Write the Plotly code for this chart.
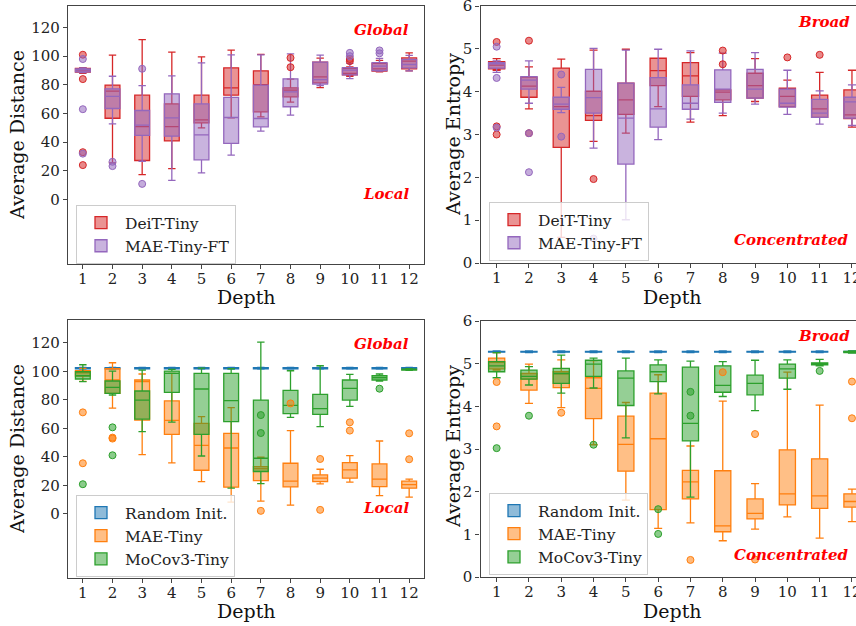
import plotly.graph_objects as go

depths = list(range(1, 13))

# each row: [lower whisker, q1, median, q3, upper whisker] per depth
deit_dist = [[88.0, 88.8, 90.2, 91.4, 92.0], [25.5, 56.7, 75.6, 79.8, 100.7], [17.4, 27.2, 50.9, 72.8, 111.6],
             [21.6, 40.9, 50.9, 66.7, 102.8], [50.0, 53.5, 55.6, 72.8, 99.5], [57.0, 72.8, 77.9, 91.9, 104.2],
             [57.7, 61.2, 80.2, 89.8, 101.2], [67.9, 71.6, 76.3, 77.9, 84.0], [78.1, 81.4, 85.6, 95.8, 98.6],
             [86.0, 87.0, 88.0, 91.5, 92.5], [89.0, 89.5, 91.2, 95.0, 97.0], [89.8, 91.2, 96.5, 98.8, 102.3]]
deit_dist_out = [[101, 84, 33, 24], [], [], [], [], [], [], [98.8, 92.3], [], [98, 96.5], [], []]

maeft_dist = [[88.5, 89.0, 90.5, 91.2, 91.8], [52.8, 63.5, 72.0, 77.2, 86.0], [26.7, 44.7, 51.9, 62.1, 79.5],
              [13.3, 44.2, 57.0, 73.7, 86.3], [18.6, 27.7, 45.1, 66.7, 95.3], [30.9, 39.1, 57.2, 71.2, 100.9],
              [47.7, 50.7, 56.5, 79.8, 100.9], [58.8, 64.7, 75.1, 84.2, 101.6], [79.5, 80.5, 83.7, 95.8, 100.7],
              [84.4, 87.0, 90.2, 92.0, 95.0], [89.5, 90.0, 93.0, 95.5, 98.5], [89.8, 91.9, 94.2, 97.7, 100.5]]
maeft_dist_out = [[98, 63, 32], [26.3, 23.3], [91.2, 10.9], [], [], [], [], [], [], [102.3, 100.0], [104.0, 102.0], []]

deit_ent = [[4.50, 4.53, 4.62, 4.70, 4.77], [3.60, 3.87, 4.13, 4.34, 4.58], [0.60, 2.70, 3.65, 4.55, 4.76],
            [2.84, 3.33, 3.44, 4.01, 4.97], [3.03, 3.47, 3.81, 4.20, 4.99], [3.65, 4.14, 4.49, 4.78, 4.78],
            [3.29, 3.89, 4.37, 4.68, 4.91], [3.44, 3.81, 3.99, 4.04, 4.04], [3.77, 3.85, 4.14, 4.43, 4.77],
            [3.65, 3.65, 3.89, 4.08, 4.27], [3.40, 3.40, 3.60, 3.92, 4.45], [3.17, 3.37, 3.46, 4.04, 4.50]]
deit_ent_out = [[5.16, 3.19, 3.0], [5.19, 3.03], [], [1.96], [], [], [], [4.96, 4.64], [], [4.8], [4.86], []]

maeft_ent = [[4.45, 4.55, 4.65, 4.68, 4.72], [3.73, 4.06, 4.27, 4.35, 4.72], [3.51, 3.59, 3.71, 3.87, 4.10],
             [2.68, 3.50, 3.86, 4.52, 5.01], [1.01, 2.31, 3.38, 4.20, 4.97], [2.88, 3.17, 3.60, 4.33, 4.99],
             [3.36, 3.59, 3.73, 4.16, 4.95], [3.50, 3.75, 4.06, 4.51, 4.90], [3.71, 3.85, 4.06, 4.52, 4.91],
             [3.47, 3.64, 3.73, 4.06, 4.50], [3.24, 3.40, 3.50, 3.82, 4.02], [3.21, 3.38, 3.76, 3.87, 4.16]]
maeft_ent_out = [[5.05, 4.32, 3.16], [3.03, 2.12], [4.40, 2.95], [0.57], [], [], [], [], [], [], [], []]

rand_dist = [[101.6, 101.8, 102.2, 102.6, 102.8]] * 12
rand_ent = [[5.26, 5.27, 5.28, 5.29, 5.30]] * 12

mae_dist = [[93.0, 96.7, 99.0, 100.4, 102.0], [74.2, 84.5, 93.9, 101.8, 106.0], [41.6, 65.8, 92.7, 93.9, 98.1],
            [35.7, 55.8, 65.6, 79.2, 98.5], [22.6, 30.6, 48.1, 63.5, 68.2], [8.2, 18.7, 46.2, 56.5, 74.5],
            [8.9, 23.3, 31.8, 33.2, 39.7], [6.1, 18.9, 22.9, 35.5, 58.4], [21.0, 22.6, 25.0, 27.3, 31.3],
            [22.2, 25.0, 30.8, 36.0, 40.9], [12.8, 19.1, 24.3, 35.0, 51.1], [11.7, 18.0, 20.5, 22.9, 24.3]]
mae_dist_out = [[71.2, 35.5], [53.5, 52.8], [], [], [], [], [2.1], [77.5], [38.5, 2.8], [64.2, 58.4], [], [56.5, 38.3]]

moco_dist = [[92.7, 94.6, 96.9, 99.7, 104.6], [83.4, 84.5, 88.7, 93.2, 100.2], [57.7, 66.5, 79.8, 86.2, 100.9],
             [64.4, 85.2, 98.5, 100.2, 101.3], [40.6, 55.8, 87.6, 98.5, 102.3], [18.0, 64.7, 79.4, 98.5, 101.8],
             [21.2, 29.7, 39.0, 79.8, 120.5], [67.7, 70.3, 76.1, 86.6, 100.4], [61.2, 69.8, 73.8, 83.8, 103.9],
             [75.4, 79.8, 88.0, 93.9, 97.8], [93.2, 93.9, 95.5, 96.9, 98.1], [100.6, 100.8, 101.2, 101.6, 101.9]]
moco_dist_out = [[20.8], [60.7, 41.1], [], [], [], [], [69.3, 56.7], [], [], [], [87.8], []]

mae_ent = [[4.85, 4.88, 5.03, 5.13, 5.26], [4.07, 4.38, 4.64, 4.77, 4.99], [3.97, 4.44, 4.76, 4.81, 5.09],
           [3.10, 3.71, 4.42, 4.67, 5.07], [1.80, 2.48, 3.11, 3.77, 4.09], [1.14, 1.58, 3.24, 4.31, 4.74],
           [1.27, 1.83, 2.23, 2.50, 3.07], [0.85, 1.06, 1.20, 2.49, 4.12], [1.12, 1.36, 1.49, 1.83, 2.19],
           [1.41, 1.69, 1.95, 2.98, 4.80], [0.91, 1.61, 1.90, 2.77, 4.03], [1.30, 1.64, 1.77, 1.95, 2.06]]
mae_ent_out = [[4.57, 3.53], [], [3.85], [], [], [], [0.40], [4.80], [3.35, 0.41], [], [], [4.58, 3.72]]

moco_ent = [[4.67, 4.81, 4.95, 5.05, 5.26], [4.50, 4.64, 4.70, 4.85, 4.93], [4.31, 4.54, 4.77, 4.89, 5.20],
            [4.43, 4.70, 4.99, 5.08, 5.13], [3.26, 4.02, 4.66, 4.83, 5.13], [4.29, 4.58, 4.81, 4.97, 5.09],
            [1.87, 3.19, 3.60, 4.92, 5.06], [4.23, 4.33, 4.49, 4.95, 5.05], [3.90, 4.27, 4.54, 4.73, 5.08],
            [4.40, 4.66, 4.88, 4.99, 5.09], [4.95, 4.97, 5.00, 5.02, 5.10], [5.25, 5.26, 5.28, 5.29, 5.30]]
moco_ent_out = [[3.02], [3.78], [], [3.10], [], [1.59, 1.01], [4.34, 3.78], [], [], [], [4.83], []]

dist_ticks = [0, 20, 40, 60, 80, 100, 120]
ent_ticks = [0, 1, 2, 3, 4, 5, 6]

RED, PURPLE, BLUE, ORANGE, GREEN = "#d62728", "#9467bd", "#1f77b4", "#ff7f0e", "#2ca02c"
FONT = "DejaVu Serif"
W, H = 856, 626


def rgba(hexc, a):
    h = hexc.lstrip("#")
    return "rgba(%d,%d,%d,%s)" % (int(h[0:2], 16), int(h[2:4], 16), int(h[4:6], 16), a)


fig = go.Figure()


def add_series(stats, outs, color, name, ax, legend):
    xa = "x" if ax == 1 else "x%d" % ax
    ya = "y" if ax == 1 else "y%d" % ax
    fig.add_trace(go.Box(
        x=depths,
        lowerfence=[s[0] for s in stats], q1=[s[1] for s in stats], median=[s[2] for s in stats],
        q3=[s[3] for s in stats], upperfence=[s[4] for s in stats],
        name=name, width=0.5, whiskerwidth=0.5, boxpoints=False,
        fillcolor=rgba(color, 0.5), line=dict(color=color, width=1.3),
        xaxis=xa, yaxis=ya, legend=legend, hoverinfo="skip"))
    ox, oy = [], []
    for d, vals in zip(depths, outs):
        for v in vals:
            ox.append(d)
            oy.append(v)
    if ox:
        fig.add_trace(go.Scatter(
            x=ox, y=oy, mode="markers", showlegend=False, hoverinfo="skip",
            marker=dict(size=7, color=rgba(color, 0.55), line=dict(color=color, width=1)),
            xaxis=xa, yaxis=ya))


add_series(deit_dist, deit_dist_out, RED, "DeiT-Tiny", 1, "legend")
add_series(maeft_dist, maeft_dist_out, PURPLE, "MAE-Tiny-FT", 1, "legend")
add_series(deit_ent, deit_ent_out, RED, "DeiT-Tiny", 2, "legend2")
add_series(maeft_ent, maeft_ent_out, PURPLE, "MAE-Tiny-FT", 2, "legend2")
add_series(rand_dist, [[]] * 12, BLUE, "Random Init.", 3, "legend3")
add_series(mae_dist, mae_dist_out, ORANGE, "MAE-Tiny", 3, "legend3")
add_series(moco_dist, moco_dist_out, GREEN, "MoCov3-Tiny", 3, "legend3")
add_series(rand_ent, [[]] * 12, BLUE, "Random Init.", 4, "legend4")
add_series(mae_ent, mae_ent_out, ORANGE, "MAE-Tiny", 4, "legend4")
add_series(moco_ent, moco_ent_out, GREEN, "MoCov3-Tiny", 4, "legend4")

axis_common = dict(showgrid=False, zeroline=False, showline=True, linecolor="#444", linewidth=1.2,
                   ticks="outside", ticklen=4, tickcolor="#444", automargin=False,
                   ticklabeloverflow="allow",
                   tickfont=dict(family=FONT, size=15, color="#222"))
xcommon = dict(ticklabelstandoff=-3, **axis_common)


def px_x(a, b):
    return [a / W, min(b / W, 1.0)]


def px_y(top, bot):
    return [1 - bot / H, 1 - top / H]


layout = dict(
    width=W, height=H, autosize=False, margin=dict(l=0, r=0, t=0, b=0, pad=0),
    paper_bgcolor="white", plot_bgcolor="white", boxmode="overlay",
    xaxis=dict(domain=px_x(68, 424), range=[0.5, 12.5], tickvals=depths, anchor="y", mirror=True, **xcommon),
    yaxis=dict(domain=px_y(6, 264), range=[-45, 135], tickvals=dist_ticks, anchor="x", mirror=True, **axis_common),
    xaxis2=dict(domain=px_x(480.5, 856), range=[0.5, 12.125], tickvals=depths, anchor="y2", mirror=True, **xcommon),
    yaxis2=dict(domain=px_y(6, 263), range=[0, 6], tickvals=ent_ticks, anchor="x2", **axis_common),
    xaxis3=dict(domain=px_x(68, 424), range=[0.5, 12.5], tickvals=depths, anchor="y3", mirror=True, **xcommon),
    yaxis3=dict(domain=px_y(320, 578), range=[-45, 136], tickvals=dist_ticks, anchor="x3", mirror=True, **axis_common),
    xaxis4=dict(domain=px_x(480.5, 856), range=[0.5, 12.125], tickvals=depths, anchor="y4", mirror=True, **xcommon),
    yaxis4=dict(domain=px_y(321, 577), range=[0, 6], tickvals=ent_ticks, anchor="x4", **axis_common),
)

leg_common = dict(bgcolor="rgba(255,255,255,0.8)", bordercolor="#cccccc", borderwidth=1,
                  font=dict(family=FONT, size=15.5, color="#222"), xanchor="left", yanchor="top",
                  itemwidth=38, traceorder="normal")
layout["legend"] = dict(x=76 / W, y=1 - 205 / H, **leg_common)
layout["legend2"] = dict(x=489 / W, y=1 - 202 / H, **leg_common)
layout["legend3"] = dict(x=76 / W, y=1 - 495 / H, **leg_common)
layout["legend4"] = dict(x=489 / W, y=1 - 493 / H, **leg_common)
fig.update_layout(**layout)

ann = []


def title(text, x, y, angle=0):
    ann.append(dict(text=text, x=x / W, y=1 - y / H, xref="paper", yref="paper", showarrow=False,
                    textangle=angle, xanchor="center", yanchor="middle",
                    font=dict(family=FONT, size=19, color="#111")))


def tag(text, x, y):
    ann.append(dict(text=text, x=x / W, y=1 - y / H, xref="paper", yref="paper", showarrow=False,
                    xanchor="right", yanchor="middle",
                    font=dict(family=FONT, size=15, color="#ff0000", weight="bold", style="italic")))


title("Average Distance", 17, 135, -90)
title("Depth", 246, 297)
title("Average Entropy", 453, 134, -90)
title("Depth", 672, 297)
title("Average Distance", 17, 449, -90)
title("Depth", 246, 611)
title("Average Entropy", 453, 446, -90)
title("Depth", 672, 611)

tag("Global", 411, 30)
tag("Local", 411, 194)
tag("Broad", 852, 22)
tag("Concentrated", 850, 240)
tag("Global", 411, 344)
tag("Local", 411, 508)
tag("Broad", 852, 336)
tag("Concentrated", 850, 555)

fig.update_layout(annotations=ann)
fig.write_html("out.html", config={"displayModeBar": False},
               post_script="document.body.style.margin='0';document.body.style.padding='0';")
